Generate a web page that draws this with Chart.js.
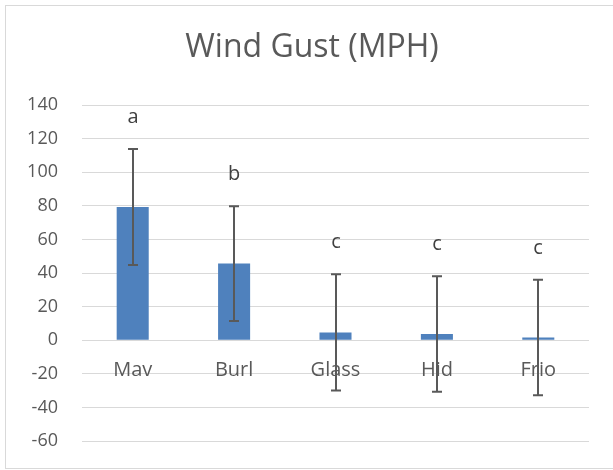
<!DOCTYPE html>
<html>
<head>
<meta charset="utf-8">
<script src="https://cdn.jsdelivr.net/npm/chart.js@4"></script>
<style>
  html, body { margin: 0; padding: 0; background: #fff; }
  #wrap { width: 613px; height: 470px; }
</style>
</head>
<body>
<div id="wrap"><canvas id="gustChart" width="613" height="470"></canvas></div>
<script>
// values
const categories = ['Mav', 'Burl', 'Glass', 'Hid', 'Frio'];
const gustMeans = [79.3, 45.6, 4.6, 3.7, 1.6];
const gustErrors = [34.5, 34.2, 34.6, 34.4, 34.4];
const groupLetters = ['a', 'b', 'c', 'c', 'c'];
const chartTitle = 'Wind Gust (MPH)';

const FONT = "'Open Sans', 'Liberation Sans', sans-serif";
const GREY = '#595959';

// outer border of the chart box + title (centred on the whole box, like Excel)
const frame = {
    id: 'frame',
    beforeDraw(chart) {
        const c = chart.ctx;
        c.save();
        c.fillStyle = '#fff';
        c.fillRect(0, 0, chart.width, chart.height);
        c.strokeStyle = '#d9d9d9';
        c.lineWidth = 1;
        c.strokeRect(5.5, 5.5, chart.width + 10, 463);

        c.fillStyle = GREY;
        c.font = "32px " + FONT;
        c.textAlign = 'center';
        c.textBaseline = 'alphabetic';
        c.fillText(chartTitle, 312, 57);
        c.restore();
    }
};

// error bars and significance letters
const errorBars = {
    id: 'errorBars',
    afterDatasetsDraw(chart) {
        const c = chart.ctx;
        const y = chart.scales.y;
        const meta = chart.getDatasetMeta(0);
        c.save();
        c.strokeStyle = GREY;
        c.lineWidth = 2;
        meta.data.forEach((bar, i) => {
            const x = Math.round(bar.x);
            const top = y.getPixelForValue(gustMeans[i] + gustErrors[i]);
            const bot = y.getPixelForValue(gustMeans[i] - gustErrors[i]);
            c.beginPath();
            c.moveTo(x, top); c.lineTo(x, bot);
            c.moveTo(x - 5, top); c.lineTo(x + 5, top);
            c.moveTo(x - 5, bot); c.lineTo(x + 5, bot);
            c.stroke();

            c.fillStyle = '#404040';
            c.font = "20px " + FONT;
            c.textAlign = 'center';
            c.textBaseline = 'alphabetic';
            c.fillText(groupLetters[i], x, top - 26);
        });
        c.restore();
    }
};

new Chart(document.getElementById('gustChart'), {
    type: 'bar',
    data: {
        labels: categories,
        datasets: [{
            label: chartTitle,
            data: gustMeans,
            backgroundColor: '#4f81bd',
            barPercentage: 0.316,
            categoryPercentage: 1,
        }],
    },
    options: {
        responsive: false,
        animation: false,
        layout: { padding: { left: 12, right: 24, top: 105, bottom: 29 } },
        plugins: {
            legend: { display: false },
            tooltip: { enabled: false },
            title: { display: false },
        },
        scales: {
            x: {
                position: { y: 0 },
                grid: { display: false },
                border: { display: false },
                ticks: {
                    color: GREY,
                    font: { family: FONT, size: 20 },
                    padding: 10,
                    maxRotation: 0,
                },
            },
            y: {
                min: -60,
                max: 140,
                grid: {
                    color: '#d9d9d9',
                    lineWidth: 1,
                    tickLength: 24,
                    tickColor: 'rgba(0,0,0,0)',
                },
                border: { display: false },
                ticks: {
                    stepSize: 20,
                    color: GREY,
                    font: { family: FONT, size: 18 },
                    padding: 0,
                },
                afterFit(scale) { scale.width = 70; },
            },
        },
    },
    plugins: [frame, errorBars],
});
</script>
</body>
</html>
